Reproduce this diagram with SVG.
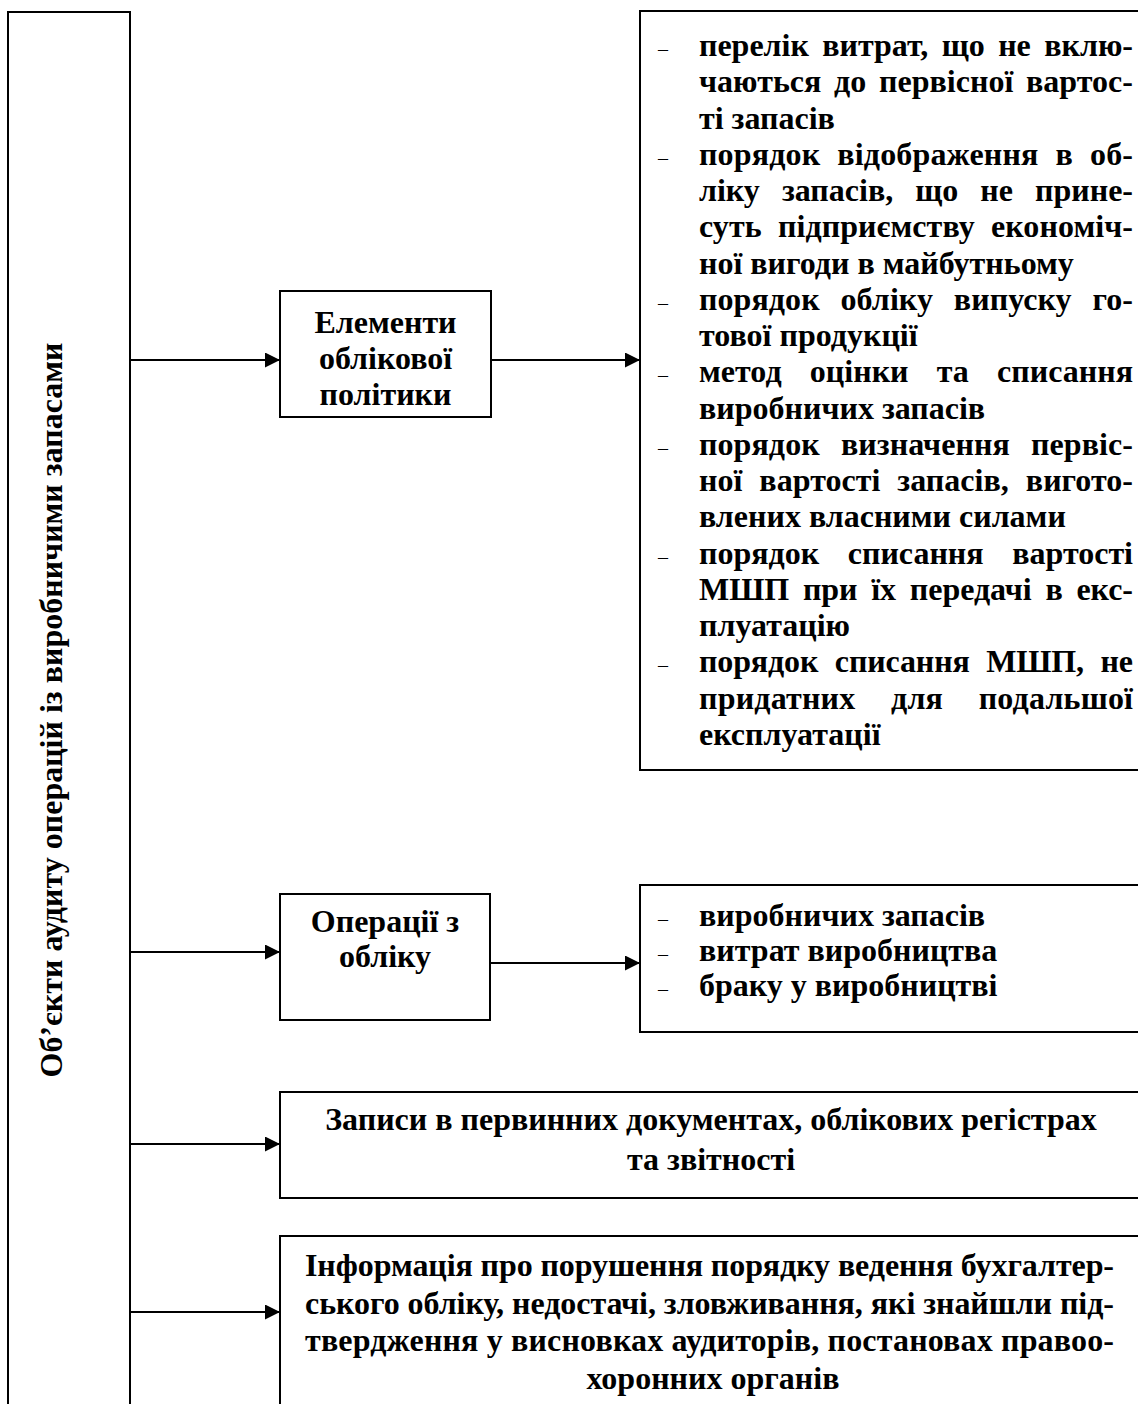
<svg xmlns="http://www.w3.org/2000/svg" width="1138" height="1404" viewBox="0 0 1138 1404">
<style>
.box{fill:#fff;stroke:#000;stroke-width:2}
.t{font-family:"Liberation Serif","Times New Roman",serif;font-weight:bold;font-size:32px;fill:#000}
.c{text-anchor:middle}
.d{font-family:"Liberation Serif","Times New Roman",serif;font-size:20px;fill:#000}
.ln{stroke:#000;stroke-width:2;fill:none;marker-end:url(#ah)}
</style>
<defs>
<marker id="ah" markerUnits="userSpaceOnUse" markerWidth="16" markerHeight="16" refX="15" refY="7.5" orient="auto">
<path d="M0,0 L15,7.5 L0,15 Z" fill="#000"/>
</marker>
</defs>
<rect width="1138" height="1404" fill="#fff"/>

<g id="root">
<rect class="box" x="8" y="12" width="122" height="1410"/>
<text class="t c" transform="translate(62,710) rotate(-90)">Об’єкти аудиту операцій із виробничими запасами</text>
</g>

<g id="elements">
<rect class="box" x="280" y="291" width="211" height="126"/>
<text class="t c" x="385.5" y="333">Елементи</text>
<text class="t c" x="385.5" y="369">облікової</text>
<text class="t c" x="385.5" y="405">політики</text>
</g>

<g id="policy-list">
<rect class="box" x="640" y="11" width="520" height="759"/>
<text class="d" x="658" y="56">–</text>
<text class="d" x="658" y="164.75">–</text>
<text class="d" x="658" y="309.75">–</text>
<text class="d" x="658" y="382.25">–</text>
<text class="d" x="658" y="454.75">–</text>
<text class="d" x="658" y="563.5">–</text>
<text class="d" x="658" y="672.25">–</text>
<text class="t" x="699" y="56" textLength="434" lengthAdjust="spacing" word-spacing="5.5">перелік витрат, що не вклю-</text>
<text class="t" x="699" y="92.25" textLength="434" lengthAdjust="spacing" word-spacing="4.6">чаються до первісної вартос-</text>
<text class="t" x="699" y="128.5">ті запасів</text>
<text class="t" x="699" y="164.75" textLength="434" lengthAdjust="spacing" word-spacing="8.9">порядок відображення в об-</text>
<text class="t" x="699" y="201" textLength="434" lengthAdjust="spacing" word-spacing="14">ліку запасів, що не прине-</text>
<text class="t" x="699" y="237.25" textLength="434" lengthAdjust="spacing" word-spacing="8.1">суть підприємству економіч-</text>
<text class="t" x="699" y="273.5">ної вигоди в майбутньому</text>
<text class="t" x="699" y="309.75" textLength="434" lengthAdjust="spacing" word-spacing="12.7">порядок обліку випуску го-</text>
<text class="t" x="699" y="346">тової продукції</text>
<text class="t" x="699" y="382.25" textLength="434" lengthAdjust="spacing" word-spacing="20.2">метод оцінки та списання</text>
<text class="t" x="699" y="418.5">виробничих запасів</text>
<text class="t" x="699" y="454.75" textLength="434" lengthAdjust="spacing" word-spacing="13.1">порядок визначення первіс-</text>
<text class="t" x="699" y="491" textLength="434" lengthAdjust="spacing" word-spacing="8.9">ної вартості запасів, вигото-</text>
<text class="t" x="699" y="527.25">влених власними силами</text>
<text class="t" x="699" y="563.5" textLength="434" lengthAdjust="spacing" word-spacing="20.7">порядок списання вартості</text>
<text class="t" x="699" y="599.75" textLength="434" lengthAdjust="spacing" word-spacing="5.8">МШП при їх передачі в екс-</text>
<text class="t" x="699" y="636">плуатацію</text>
<text class="t" x="699" y="672.25" textLength="434" lengthAdjust="spacing" word-spacing="8.7">порядок списання МШП, не</text>
<text class="t" x="699" y="708.5" textLength="434" lengthAdjust="spacing" word-spacing="27.4">придатних для подальшої</text>
<text class="t" x="699" y="744.75">експлуатації</text>
</g>

<g id="operations">
<rect class="box" x="280" y="894" width="210" height="126"/>
<text class="t c" x="385" y="932">Операції з</text>
<text class="t c" x="385" y="967">обліку</text>
</g>

<g id="operations-list">
<rect class="box" x="640" y="885" width="520" height="147"/>
<text class="d" x="658" y="926">–</text>
<text class="d" x="658" y="961">–</text>
<text class="d" x="658" y="996">–</text>
<text class="t" x="699" y="926">виробничих запасів</text>
<text class="t" x="699" y="961">витрат виробництва</text>
<text class="t" x="699" y="996">браку у виробництві</text>
</g>

<g id="records">
<rect class="box" x="280" y="1092" width="880" height="106"/>
<text class="t c" x="711" y="1130">Записи в первинних документах, облікових регістрах</text>
<text class="t c" x="711" y="1170">та звітності</text>
</g>

<g id="violations">
<rect class="box" x="280" y="1236" width="880" height="200"/>
<text class="t" x="305" y="1276" textLength="809" lengthAdjust="spacing">Інформація про порушення порядку ведення бухгалтер-</text>
<text class="t" x="305" y="1313.5" textLength="809" lengthAdjust="spacing">ського обліку, недостачі, зловживання, які знайшли під-</text>
<text class="t" x="305" y="1351" textLength="809" lengthAdjust="spacing">твердження у висновках аудиторів, постановах правоо-</text>
<text class="t c" x="713" y="1388.5">хоронних органів</text>
</g>

<g id="connectors">
<line class="ln" x1="131" y1="360" x2="280" y2="360"/>
<line class="ln" x1="491" y1="360" x2="640" y2="360"/>
<line class="ln" x1="131" y1="952" x2="280" y2="952"/>
<line class="ln" x1="490" y1="963" x2="640" y2="963"/>
<line class="ln" x1="131" y1="1144" x2="280" y2="1144"/>
<line class="ln" x1="131" y1="1312" x2="280" y2="1312"/>
</g>
</svg>
